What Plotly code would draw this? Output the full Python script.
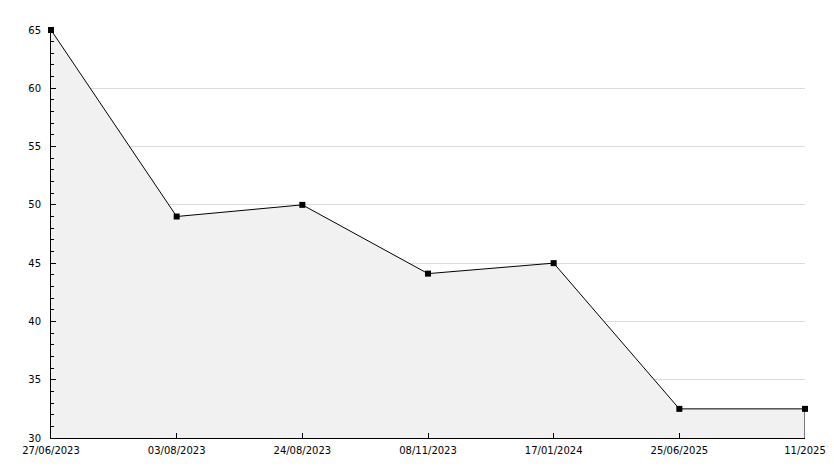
import plotly.graph_objects as go

dates = ["27/06/2023", "03/08/2023", "24/08/2023", "08/11/2023", "17/01/2024", "25/06/2025", "11/2025"]
values = [65, 49, 50, 44.1, 45, 32.5, 32.5]
y_min, y_max = 30, 65

fig = go.Figure()
fig.add_trace(go.Scatter(
    x=dates, y=values, mode="lines+markers",
    line=dict(color="black", width=1),
    marker=dict(symbol="square", size=6, color="black"),
    fill="tozeroy", fillcolor="#f1f1f1",
    cliponaxis=False, hoverinfo="x+y",
))
# right edge of the filled area
fig.add_trace(go.Scatter(
    x=[dates[-1], dates[-1]], y=[values[-1], y_min], mode="lines",
    line=dict(color="black", width=1), hoverinfo="skip",
))

# page body has an 8px default margin, so the figure is sized to fit
fig.update_layout(
    width=826, height=460,
    margin=dict(l=43, r=29, t=22, b=30),
    plot_bgcolor="white", paper_bgcolor="white",
    showlegend=False,
    font=dict(family="DejaVu Sans", size=10, color="black"),
    xaxis=dict(
        type="category", range=[0, len(dates) - 1],
        showgrid=False, showline=True, linecolor="black", linewidth=1,
        ticks="inside", ticklen=5, tickcolor="black",
        zeroline=False, automargin=False, ticklabelstandoff=3,
    ),
    yaxis=dict(
        range=[y_min, y_max], dtick=5, tick0=30,
        showgrid=True, gridcolor="#dcdcdc", gridwidth=1,
        showline=True, linecolor="black", linewidth=1,
        ticks="inside", ticklen=5, tickcolor="black", tickwidth=1,
        minor=dict(dtick=1, ticks="inside", ticklen=3, tickcolor="black", showgrid=False),
        zeroline=False, ticklabelstandoff=7, automargin=False,
    ),
)
fig.write_html("out.html")
